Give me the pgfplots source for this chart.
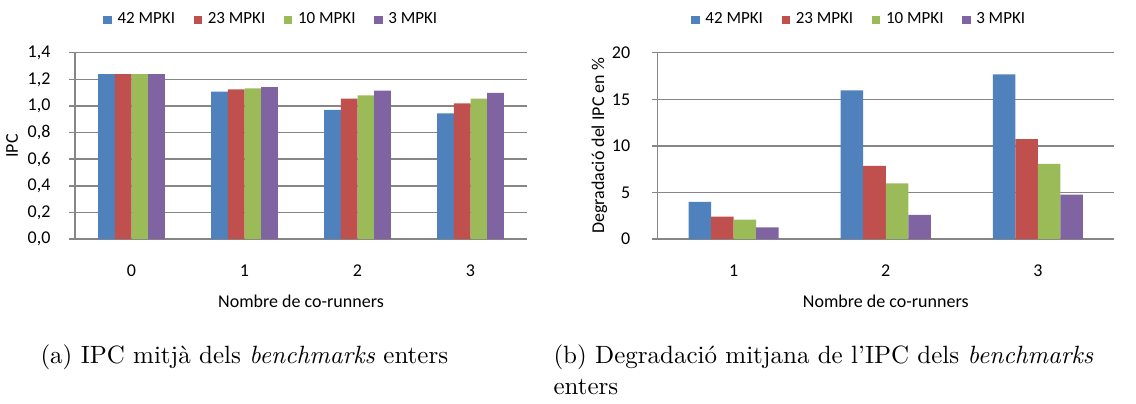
\documentclass[border=0pt]{standalone}
\usepackage{pgfplots}
\pgfplotsset{compat=1.18}
\usepackage{fontspec}
\newfontfamily\chartfont{Carlito}
\definecolor{cA}{RGB}{79,129,189}
\definecolor{cB}{RGB}{192,80,77}
\definecolor{cC}{RGB}{155,187,89}
\definecolor{cD}{RGB}{128,100,162}
\definecolor{gridc}{RGB}{134,134,134}
\pgfplotsset{
  excel/.style={
    scale only axis,
    axis x line=bottom, axis y line=left,
    axis line style={-, gridc, line width=0.6pt},
    ymajorgrids, grid style={gridc, line width=0.6pt},
    ybar, bar width=0.148,
    xtick=data,
    major x tick style={draw=none},
    major y tick style={gridc, line width=0.6pt},
    tick align=outside, major tick length=2.4pt,
    tick label style={font=\chartfont\fontsize{7.2}{8}\selectfont},
    label style={font=\chartfont\fontsize{7.2}{8}\selectfont},
    /pgf/number format/assume math mode=true,
    xticklabel style={yshift=-4.5pt},
    xlabel style={yshift=-0.5pt},
    legend columns=-1,
    legend style={draw=none, fill=none, inner sep=0pt, outer sep=0pt,
      font=\chartfont\fontsize{6.8}{8}\selectfont,
      nodes={inner sep=0pt},
      /tikz/every odd column/.append style={column sep=2.3pt},
      /tikz/every even column/.append style={column sep=7.4pt}},
    legend image code/.code={\fill[##1] (0pt,-1.7pt) rectangle (3.4pt,1.7pt);},
  }
}
\begin{document}
\begin{tikzpicture}
\path[use as bounding box] (0,0) rectangle (454.4pt,161.2pt);
% (a)
\begin{axis}[excel,
  at={(30pt,65.56pt)}, anchor=south west,
  width=180.8pt, height=74.56pt,
  xmin=-0.5, xmax=3.5,
  ymin=0, ymax=1.4, ytick={0,0.2,...,1.4},
  yticklabel style={xshift=-3.9pt, /pgf/number format/.cd, use comma, fixed, fixed zerofill, precision=1},
  xlabel={Nombre de co-runners}, ylabel={IPC},
  ylabel style={yshift=-3pt},
  legend style={at={(0.0626,1.1755)}, anchor=west},
]
\addplot[fill=cA, draw=none, bar shift=-0.222] coordinates {(0,1.24) (1,1.107) (2,0.970) (3,0.945)};
\addplot[fill=cB, draw=none, bar shift=-0.074] coordinates {(0,1.24) (1,1.124) (2,1.055) (3,1.020)};
\addplot[fill=cC, draw=none, bar shift=0.074] coordinates {(0,1.24) (1,1.132) (2,1.080) (3,1.055)};
\addplot[fill=cD, draw=none, bar shift=0.222] coordinates {(0,1.24) (1,1.142) (2,1.115) (3,1.098)};
\legend{42 MPKI, 23 MPKI, 10 MPKI, 3 MPKI}
\end{axis}
% (b)
\begin{axis}[excel,
  at={(263pt,65.56pt)}, anchor=south west,
  width=182.6pt, height=74.56pt,
  xmin=0.5, xmax=3.5,
  ymin=0, ymax=20, ytick={0,5,...,20},
  yticklabel style={xshift=-5pt},
  xlabel={Nombre de co-runners}, ylabel={Degradació del IPC en \%},
  ylabel style={yshift=-5pt},
  legend style={at={(0.0739,1.1755)}, anchor=west},
]
\addplot[fill=cA, draw=none, bar shift=-0.222] coordinates {(1,4.0) (2,15.95) (3,17.67)};
\addplot[fill=cB, draw=none, bar shift=-0.074] coordinates {(1,2.4) (2,7.87) (3,10.73)};
\addplot[fill=cC, draw=none, bar shift=0.074] coordinates {(1,2.1) (2,5.97) (3,8.08)};
\addplot[fill=cD, draw=none, bar shift=0.222] coordinates {(1,1.25) (2,2.6) (3,4.76)};
\legend{42 MPKI, 23 MPKI, 10 MPKI, 3 MPKI}
\end{axis}
\node[anchor=base west, inner sep=0pt] at (16pt,16pt) {(a) IPC mitjà dels \emph{benchmarks} enters};
\node[anchor=base west, inner sep=0pt] at (221.2pt,16pt) {(b) Degradació mitjana de l'IPC dels \emph{benchmarks}};
\node[anchor=base west, inner sep=0pt] at (221.2pt,3.5pt) {enters};
\end{tikzpicture}
\end{document}
